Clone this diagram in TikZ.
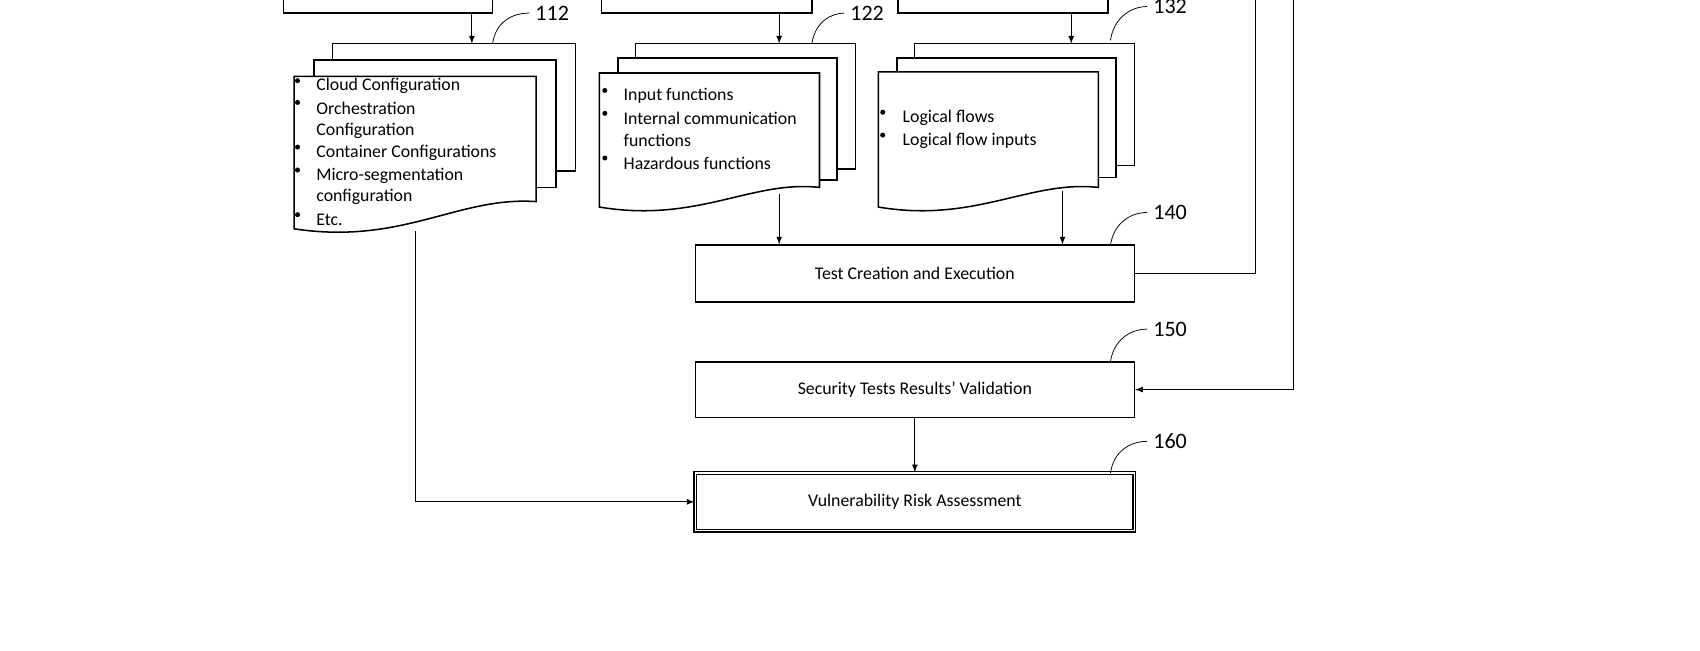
\documentclass[tikz,border=0pt]{standalone}
\usepackage{fontspec}
\setmainfont{Carlito}
\begin{document}
\begin{tikzpicture}[x=0.02cm,y=-0.02cm,
  box/.style={draw,thick,fill=white,minimum width=8.06cm,font=\fontsize{9.3}{10}\selectfont,inner sep=0pt},
  sheet/.style={draw,thick,fill=white},
  txt/.style={anchor=west,font=\fontsize{9.3}{10}\selectfont,inner sep=0pt},
  num/.style={anchor=west,font=\fontsize{11.5}{13}\selectfont,inner sep=0pt},
  arr/.style={draw,-latex},
  lead/.style={draw}]
\useasboundingbox (0,0) rectangle (1560,596.5);
% top boxes (cut off)
\node[draw,thick,minimum width=3.84cm,minimum height=1.2cm,inner sep=0pt] (a) at (356,-18) {};
\node[draw,thick,minimum width=3.86cm,minimum height=1.2cm,inner sep=0pt] (b) at (648.5,-18) {};
\node[draw,thick,minimum width=3.86cm,minimum height=1.2cm,inner sep=0pt] (c) at (920.5,-18) {};
% doc 1
\path[sheet] (305,40) rectangle (528,157);
\path[sheet] (288,55) rectangle (510,172);
\path[sheet] (270,70) -- (492,70) -- (492,185) .. controls (420,180) and (370,225) .. (270,210) -- cycle;
% doc 2
\path[sheet] (583,40) rectangle (785,155);
\path[sheet] (567,53) rectangle (768,165);
\path[sheet] (550,67) -- (752,67) -- (752,172) .. controls (690,165) and (640,205) .. (550,190) -- cycle;
% doc 3
\path[sheet] (839,40) rectangle (1041,152);
\path[sheet] (823,53) rectangle (1024,163);
\path[sheet] (806,66) -- (1008,66) -- (1008,172) .. controls (945,165) and (895,205) .. (806,190) -- cycle;
\coordinate (d1t) at (433,40); \coordinate (d2t) at (715,40); \coordinate (d3t) at (983,40);
\coordinate (d1b) at (381,212); \coordinate (d2b) at (715,178); \coordinate (d3b) at (975,175);
% bullets
\foreach \y in {79,99,140,161,202} \fill (273,\y-5) circle (2.3);
\foreach \y in {88,109,150} \fill (555,\y-5) circle (2.3);
\foreach \y in {108,129} \fill (810,\y-5) circle (2.3);
\node[txt] (t11) at (290,79) {Cloud Configuration};
\node[txt] (t12) at (290,99) {Orchestration};
\node[txt] (t13) at (290,120) {Configuration};
\node[txt] (t14) at (290,140) {Container Configurations};
\node[txt] (t15) at (290,161) {Micro-segmentation};
\node[txt] (t16) at (290,181) {configuration};
\node[txt] (t17) at (290,202) {Etc.};
\node[txt] (t21) at (572,88) {Input functions};
\node[txt] (t22) at (572,109) {Internal communication};
\node[txt] (t23) at (572,129) {functions};
\node[txt] (t24) at (572,150) {Hazardous functions};
\node[txt] (t31) at (828,108) {Logical flows};
\node[txt] (t32) at (828,129) {Logical flow inputs};
% main boxes
\node[box,minimum height=1.04cm] (test) at (839.5,251) {Test Creation and Execution};
\node[box,minimum height=1.02cm] (sec) at (839.5,357.5) {Security Tests Results’ Validation};
\node[box,minimum height=1.06cm,double,double distance=0.6pt] (vra) at (839.5,460.5) {Vulnerability Risk Assessment};
% arrows
\draw[arr] (a.south -| d1t) -- (d1t);
\draw[arr] (b.south -| d2t) -- (d2t);
\draw[arr] (c.south -| d3t) -- (d3t);
\draw[arr] (d2b) -- (d2b |- test.north);
\draw[arr] (d3b) -- (d3b |- test.north);
\draw[arr] (sec.south) -- (vra.north);
\draw[arr] (d1b) |- (vra.west);
\coordinate (r1) at (1152,-10); \coordinate (r2) at (1187,-10);
\draw (r1) |- (test.east);
\draw[arr] (r2) |- (sec.east);
% reference numbers
\node[num] (n112) at (491,12) {112};
\node[num] (n122) at (780,12) {122};
\node[num] (n132) at (1058,6) {132};
\node[num] (n140) at (1058,195) {140};
\node[num] (n150) at (1058,302) {150};
\node[num] (n160) at (1058,405) {160};
\draw[lead] (452,40) .. controls (455,20) and (470,12) .. ([xshift=-3pt]n112.west);
\draw[lead] (745,40) .. controls (748,20) and (763,12) .. ([xshift=-3pt]n122.west);
\draw[lead] (1019,37) .. controls (1022,17) and (1037,6) .. ([xshift=-3pt]n132.west);
\draw[lead] (1019,225) .. controls (1022,205) and (1037,195) .. ([xshift=-3pt]n140.west);
\draw[lead] (1019,332) .. controls (1022,312) and (1037,302) .. ([xshift=-3pt]n150.west);
\draw[lead] (1019,434) .. controls (1022,414) and (1037,405) .. ([xshift=-3pt]n160.west);
\end{tikzpicture}
\end{document}
